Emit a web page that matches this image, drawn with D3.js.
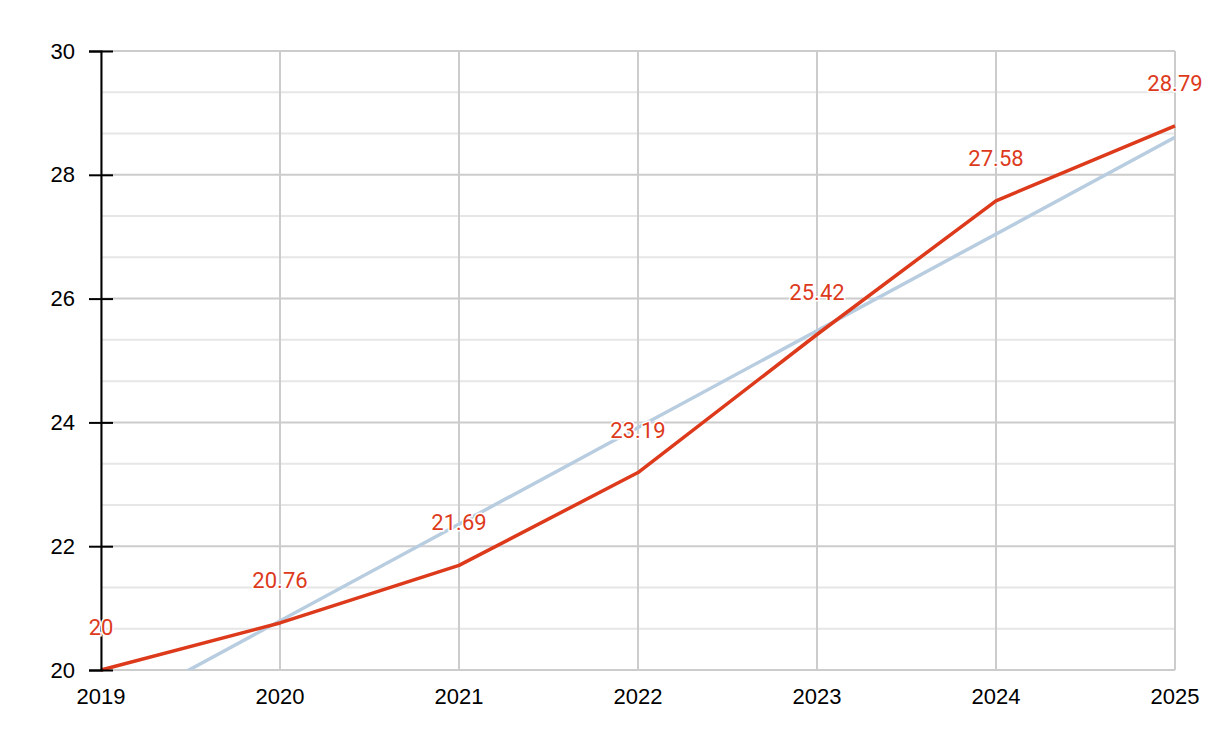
<!DOCTYPE html>
<html>
<head>
<meta charset="utf-8">
<script src="https://cdn.jsdelivr.net/npm/d3@7"></script>
<style>
  body { margin: 0; background: #fff; }
  svg { display: block; }
</style>
</head>
<body>
<svg id="chart" width="1212" height="748"></svg>
<script>
const years = [2019, 2020, 2021, 2022, 2023, 2024, 2025]
const values = [20, 20.76, 21.69, 23.19, 25.42, 27.58, 28.79]
const yTicks = [20, 22, 24, 26, 28, 30]

const margin = {top: 51, right: 37, bottom: 78, left: 101}
const width = 1212, height = 748

const svg = d3.select('#chart')

const x = d3.scaleLinear()
    .domain([2019, 2025])
    .range([margin.left, width - margin.right])
const y = d3.scaleLinear()
    .domain([20, 30])
    .range([height - margin.bottom, margin.top])

// minor grid, thirds between major ticks
const minor = []
for (let i = 0; i < yTicks.length - 1; i++) {
    let step = (yTicks[i + 1] - yTicks[i]) / 3
    minor.push(yTicks[i] + step, yTicks[i] + 2 * step)
}
svg.append('g').selectAll('line').data(minor).join('line')
    .attr('x1', x(2019)).attr('x2', x(2025))
    .attr('y1', d => y(d)).attr('y2', d => y(d))
    .attr('stroke', '#e6e6e6').attr('stroke-width', 2)

svg.append('g').selectAll('line').data(yTicks).join('line')
    .attr('x1', x(2019)).attr('x2', x(2025))
    .attr('y1', d => y(d)).attr('y2', d => y(d))
    .attr('stroke', '#cccccc').attr('stroke-width', 2)

svg.append('g').selectAll('line').data(years).join('line')
    .attr('x1', d => x(d)).attr('x2', d => x(d))
    .attr('y1', y(20)).attr('y2', y(30))
    .attr('stroke', '#cccccc').attr('stroke-width', 2)

// least squares trend
const mx = d3.mean(years), my = d3.mean(values)
const slope = d3.sum(years, (d, i) => (d - mx) * (values[i] - my)) / d3.sum(years, d => (d - mx) * (d - mx))
const icpt = my - slope * mx
const trend = [2019, 2025].map(d => [d, icpt + slope * d])

svg.append('clipPath').attr('id', 'plot-clip')
    .append('rect')
    .attr('x', x(2019)).attr('y', y(30))
    .attr('width', x(2025) - x(2019)).attr('height', y(20) - y(30))

const line = d3.line().x(d => x(d[0])).y(d => y(d[1]))

svg.append('path')
    .datum(trend)
    .attr('clip-path', 'url(#plot-clip)')
    .attr('d', line)
    .attr('fill', 'none')
    .attr('stroke', '#b8cde0')
    .attr('stroke-width', 3.5)

svg.append('path')
    .datum(years.map((d, i) => [d, values[i]]))
    .attr('d', line)
    .attr('fill', 'none')
    .attr('stroke', '#dd3a1c')
    .attr('stroke-width', 3.5)
    .attr('stroke-linejoin', 'round')

// y axis
const yAxis = svg.append('g')
    .attr('transform', `translate(${x(2019)},0)`)
    .call(d3.axisLeft(y).tickValues(yTicks).tickSize(12).tickPadding(14))
yAxis.attr('font-size', null).attr('font-family', null)
yAxis.select('.domain').attr('stroke', '#000').attr('stroke-width', 2)
yAxis.selectAll('.tick line').attr('stroke', '#000').attr('stroke-width', 2).attr('x2', 12).attr('x1', -12)
yAxis.selectAll('text')
    .style('font-family', 'Liberation Sans, Arial, sans-serif')
    .style('font-size', '22px')
    .attr('fill', '#000')

// x labels
svg.append('g').selectAll('text').data(years).join('text')
    .attr('x', d => x(d))
    .attr('y', y(20) + 34)
    .attr('text-anchor', 'middle')
    .style('font-family', 'Liberation Sans, Arial, sans-serif')
    .style('font-size', '22px')
    .attr('fill', '#000')
    .text(d => d)

// value labels
svg.append('g').selectAll('text').data(values).join('text')
    .attr('x', (d, i) => x(years[i]))
    .attr('y', d => y(d) - 35)
    .attr('text-anchor', 'middle')
    .style('font-family', 'Roboto, sans-serif')
    .style('font-size', '22px')
    .attr('fill', '#dd3a1c')
    .attr('stroke', '#fff')
    .attr('stroke-width', 3)
    .attr('paint-order', 'stroke')
    .text(d => d)
</script>
</body>
</html>
